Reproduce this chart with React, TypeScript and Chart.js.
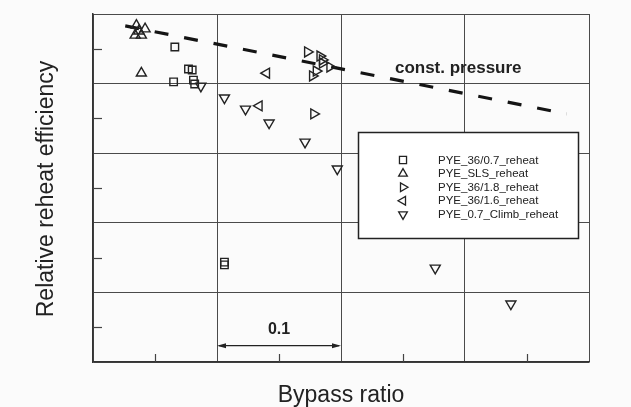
import React, { useEffect, useRef } from 'react';
import { Chart, registerables } from 'chart.js';
import { drawPoint } from 'chart.js/helpers';

Chart.register(...registerables);

// ---- Data (x: bypass ratio offset, grid step 0.1; y: relative efficiency, arbitrary 0..1) ----
const seriesNames = [
  'PYE_36/0.7_reheat',
  'PYE_SLS_reheat',
  'PYE_36/1.8_reheat',
  'PYE_36/1.6_reheat',
  'PYE_0.7_Climb_reheat',
];

const pye36_07X = [0.066, 0.077, 0.080, 0.065, 0.081, 0.082, 0.106, 0.106];
const pye36_07Y = [0.905, 0.842, 0.839, 0.805, 0.810, 0.799, 0.287, 0.279];

const slsX = [0.035, 0.042, 0.034, 0.039, 0.037, 0.039];
const slsY = [0.967, 0.957, 0.939, 0.939, 0.951, 0.830];

const pye36_18X = [0.173, 0.183, 0.185, 0.185, 0.191, 0.180, 0.177, 0.178];
const pye36_18Y = [0.891, 0.879, 0.868, 0.859, 0.848, 0.836, 0.822, 0.713];

const pye36_16X = [0.140, 0.134];
const pye36_16Y = [0.830, 0.736];

const climbX = [0.087, 0.106, 0.123, 0.142, 0.171, 0.197, 0.276, 0.337];
const climbY = [0.793, 0.759, 0.727, 0.687, 0.632, 0.555, 0.270, 0.167];

const constPressureX = [0.026, 0.382];
const constPressureY = [0.966, 0.713];

const xMajorTicks = [0, 0.1, 0.2, 0.3, 0.4];
const xMinorTicks = [0.05, 0.15, 0.25, 0.35];
const yMajorTicks = [0, 0.2, 0.4, 0.6, 0.8, 1.0];
const yMinorTicks = [0.1, 0.3, 0.5, 0.7, 0.9];

const pointStyles = ['rect', 'triangle', 'triangle', 'triangle', 'triangle'];
const rotations = [0, 0, 90, 270, 180];

const INK = '#222222';

const zip = (xs: number[], ys: number[]) => xs.map((x, i) => ({ x, y: ys[i] }));

const bgPlugin = {
  id: 'bg',
  beforeDraw(chart: any) {
    const { ctx, width, height } = chart;
    ctx.save();
    ctx.fillStyle = '#fbfbfb';
    ctx.fillRect(0, 0, width, height);
    ctx.restore();
  },
};

const decorPlugin = {
  id: 'decor',
  beforeDatasetsDraw(chart: any) {
    const { ctx, chartArea: a, scales } = chart;
    const x = scales.x;
    const y = scales.y;
    ctx.save();
    ctx.strokeStyle = '#444';
    ctx.lineWidth = 1.2;
    xMinorTicks.forEach((v) => {
      const px = Math.round(x.getPixelForValue(v)) + 0.5;
      ctx.beginPath();
      ctx.moveTo(px, a.bottom);
      ctx.lineTo(px, a.bottom - 8);
      ctx.stroke();
    });
    yMinorTicks.forEach((v) => {
      const py = Math.round(y.getPixelForValue(v)) + 0.5;
      ctx.beginPath();
      ctx.moveTo(a.left, py);
      ctx.lineTo(a.left + 9, py);
      ctx.stroke();
    });
    ctx.restore();
  },
  afterDraw(chart: any) {
    const { ctx, chartArea: a, scales } = chart;
    const x = scales.x;
    const y = scales.y;
    ctx.save();
    ctx.fillStyle = INK;
    ctx.strokeStyle = INK;

    // Axis titles
    ctx.font = '23px "Liberation Sans", Arial, sans-serif';
    ctx.textAlign = 'center';
    ctx.textBaseline = 'alphabetic';
    ctx.fillText('Bypass ratio', (a.left + a.right) / 2, 402);
    ctx.save();
    ctx.translate(53, (a.top + a.bottom) / 2 + 1);
    ctx.rotate(-Math.PI / 2);
    ctx.fillText('Relative reheat efficiency', 0, 0);
    ctx.restore();

    // const. pressure label
    ctx.font = 'bold 17px "Liberation Sans", Arial, sans-serif';
    ctx.textAlign = 'left';
    ctx.textBaseline = 'middle';
    ctx.fillText('const. pressure', x.getPixelForValue(0.2435), y.getPixelForValue(0.845));

    // 0.1 dimension arrow
    const x1 = x.getPixelForValue(0.1);
    const x2 = x.getPixelForValue(0.2);
    const ay = y.getPixelForValue(0.047);
    ctx.lineWidth = 1.3;
    ctx.beginPath();
    ctx.moveTo(x1 + 2, ay);
    ctx.lineTo(x2 - 2, ay);
    ctx.stroke();
    ctx.beginPath();
    ctx.moveTo(x1, ay);
    ctx.lineTo(x1 + 9, ay - 2.5);
    ctx.lineTo(x1 + 9, ay + 2.5);
    ctx.closePath();
    ctx.fill();
    ctx.beginPath();
    ctx.moveTo(x2, ay);
    ctx.lineTo(x2 - 9, ay - 2.5);
    ctx.lineTo(x2 - 9, ay + 2.5);
    ctx.closePath();
    ctx.fill();
    ctx.font = 'bold 16px "Liberation Sans", Arial, sans-serif';
    ctx.textAlign = 'center';
    ctx.textBaseline = 'middle';
    ctx.fillText('0.1', (x1 + x2) / 2, y.getPixelForValue(0.092));

    // Legend box
    const lx = 358.5, ly = 132.5, lw = 220, lh = 106;
    ctx.fillStyle = '#ffffff';
    ctx.fillRect(lx, ly, lw, lh);
    ctx.lineWidth = 1.5;
    ctx.strokeStyle = INK;
    ctx.strokeRect(lx, ly, lw, lh);
    ctx.font = '11.5px "Liberation Sans", Arial, sans-serif';
    ctx.textAlign = 'left';
    ctx.textBaseline = 'middle';
    seriesNames.forEach((name, i) => {
      const ry = 160 + i * 13.6;
      ctx.strokeStyle = INK;
      ctx.fillStyle = 'rgba(0,0,0,0)';
      ctx.lineWidth = 1.3;
      drawPoint(ctx, { pointStyle: pointStyles[i], rotation: rotations[i], radius: 5, borderWidth: 1.3 } as any, 403, ry);
      ctx.fillStyle = INK;
      ctx.fillText(name, 438, ry + 0.5);
    });
    ctx.restore();
  },
};

export default function App() {
  const canvasRef = useRef<HTMLCanvasElement | null>(null);

  useEffect(() => {
    const canvas = canvasRef.current;
    if (!canvas) return;
    const seriesX = [pye36_07X, slsX, pye36_18X, pye36_16X, climbX];
    const seriesY = [pye36_07Y, slsY, pye36_18Y, pye36_16Y, climbY];
    const markerSets = seriesNames.map((name, i) => ({
      type: 'scatter' as const,
      label: name,
      data: zip(seriesX[i], seriesY[i]),
      pointStyle: pointStyles[i],
      rotation: rotations[i],
      pointRadius: i === 0 ? 5.3 : 5.8,
      borderColor: INK,
      backgroundColor: 'rgba(0,0,0,0)',
      borderWidth: 1.4,
      showLine: false,
    }));
    const chart = new Chart(canvas, {
      type: 'scatter',
      data: {
        datasets: [
          ...markerSets,
          {
            type: 'line' as const,
            label: 'const. pressure',
            data: zip(constPressureX, constPressureY),
            borderColor: '#141414',
            borderWidth: 3.2,
            borderDash: [14, 16],
            borderCapStyle: 'butt',
            pointRadius: 0,
            fill: false,
            showLine: true,
          } as any,
        ],
      },
      options: {
        responsive: false,
        animation: false,
        events: [],
        layout: { padding: { left: 93, right: 42, top: 14, bottom: 45 } },
        plugins: { legend: { display: false }, tooltip: { enabled: false } },
        scales: {
          x: {
            type: 'linear',
            min: xMajorTicks[0],
            max: xMajorTicks[xMajorTicks.length - 1],
            afterBuildTicks: (s: any) => { s.ticks = xMajorTicks.map((v) => ({ value: v })); },
            ticks: { display: false },
            grid: { color: '#4a4a4a', lineWidth: 1, drawTicks: false },
            border: { display: true, color: '#333', width: 1.5 },
          },
          y: {
            type: 'linear',
            min: yMajorTicks[0],
            max: yMajorTicks[yMajorTicks.length - 1],
            afterBuildTicks: (s: any) => { s.ticks = yMajorTicks.map((v) => ({ value: v })); },
            ticks: { display: false },
            grid: { color: '#4a4a4a', lineWidth: 1, drawTicks: false },
            border: { display: true, color: '#333', width: 1.5 },
          },
        },
      },
      plugins: [bgPlugin, decorPlugin],
    } as any);
    return () => chart.destroy();
  }, []);

  return (
    <canvas
      ref={canvasRef}
      width={631}
      height={407}
      style={{ position: 'absolute', left: 0, top: 0, display: 'block', width: 631, height: 407 }}
    />
  );
}
